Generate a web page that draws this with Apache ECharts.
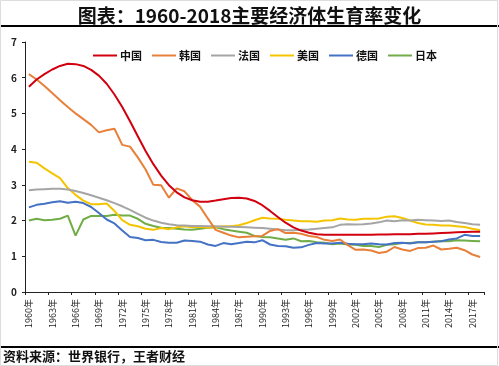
<!DOCTYPE html>
<html><head><meta charset="utf-8">
<script src="https://cdn.jsdelivr.net/npm/echarts@6/dist/echarts.min.js"></script>
<style>html,body{margin:0;padding:0;background:#fff}#c{width:499px;height:366px}</style>
</head><body><div id="c"></div>
<script>
const years = [];
for (let y = 1960; y <= 2018; y++) years.push(String(y));
const titleText = '图表：1960-2018主要经济体生育率变化';
const sourceText = '资料来源：世界银行，王者财经';
const yTicks = [0,1,2,3,4,5,6,7];
const china = [5.75,5.95,6.1,6.23,6.33,6.39,6.38,6.33,6.22,6.06,5.83,5.53,5.18,4.78,4.36,3.95,3.58,3.26,2.99,2.79,2.65,2.57,2.53,2.53,2.56,2.6,2.63,2.64,2.62,2.55,2.43,2.27,2.1,1.94,1.81,1.72,1.66,1.62,1.6,1.6,1.6,1.6,1.6,1.6,1.6,1.61,1.61,1.62,1.62,1.62,1.63,1.63,1.64,1.65,1.66,1.67,1.68,1.69,1.69];
const korea = [6.1,5.95,5.77,5.57,5.37,5.18,5.0,4.84,4.68,4.47,4.53,4.57,4.12,4.07,3.77,3.43,3.0,2.99,2.64,2.9,2.82,2.57,2.39,2.06,1.74,1.66,1.58,1.53,1.55,1.56,1.57,1.71,1.76,1.65,1.66,1.63,1.57,1.54,1.46,1.43,1.47,1.31,1.18,1.19,1.16,1.09,1.13,1.26,1.19,1.15,1.23,1.24,1.3,1.19,1.21,1.24,1.17,1.05,0.98];
const france = [2.85,2.87,2.88,2.89,2.89,2.87,2.83,2.77,2.71,2.64,2.57,2.49,2.4,2.3,2.19,2.08,2.0,1.94,1.9,1.87,1.86,1.85,1.85,1.84,1.84,1.83,1.83,1.82,1.81,1.8,1.79,1.77,1.75,1.73,1.73,1.74,1.75,1.77,1.79,1.81,1.88,1.9,1.89,1.9,1.92,1.95,2.0,1.98,2.01,2.0,2.02,2.01,2.0,1.99,2.0,1.96,1.93,1.9,1.88];
const usa = [3.65,3.62,3.46,3.32,3.19,2.91,2.72,2.56,2.46,2.46,2.48,2.27,2.01,1.88,1.84,1.77,1.74,1.79,1.76,1.81,1.84,1.81,1.83,1.8,1.81,1.84,1.84,1.87,1.93,2.01,2.08,2.06,2.05,2.02,2.0,1.98,1.98,1.97,2.0,2.01,2.06,2.03,2.02,2.05,2.05,2.06,2.11,2.12,2.07,2.0,1.93,1.89,1.88,1.86,1.86,1.84,1.82,1.77,1.73];
const germany = [2.37,2.44,2.47,2.51,2.54,2.5,2.53,2.49,2.38,2.21,2.03,1.92,1.72,1.54,1.51,1.45,1.46,1.4,1.38,1.38,1.44,1.43,1.41,1.33,1.29,1.37,1.34,1.37,1.41,1.39,1.45,1.33,1.29,1.28,1.24,1.25,1.32,1.37,1.36,1.36,1.38,1.35,1.34,1.34,1.36,1.34,1.33,1.37,1.38,1.36,1.39,1.39,1.41,1.42,1.47,1.5,1.6,1.57,1.57];
const japan = [2.0,2.05,2.01,2.02,2.05,2.14,1.58,2.03,2.13,2.13,2.13,2.16,2.14,2.14,2.05,1.91,1.85,1.8,1.79,1.77,1.75,1.74,1.77,1.8,1.81,1.76,1.72,1.69,1.66,1.57,1.54,1.53,1.5,1.46,1.5,1.42,1.43,1.39,1.38,1.34,1.36,1.33,1.32,1.29,1.29,1.26,1.32,1.34,1.37,1.37,1.39,1.39,1.41,1.43,1.42,1.45,1.44,1.43,1.42];
const seriesNames = ['中国','韩国','法国','美国','德国','日本'];
const seriesData = [china, korea, france, usa, germany, japan];
const colors = ['#D2000F','#E8803A','#A5A5A5','#F5C400','#4472C4','#70AD47'];

const chart = echarts.init(document.getElementById('c'), null, {renderer:'canvas'});
const font = '"Noto Sans CJK SC", "Noto Sans", sans-serif';
chart.setOption({
  animation: false,
  backgroundColor: '#fff',
  color: colors,
  title: {
    text: titleText, left: 'center', top: 1,
    textStyle: {fontFamily: font, fontSize: 19, fontWeight: 'bold', color: '#111'}
  },
  legend: {
    data: seriesNames, left: 88, top: 45, icon: 'rect', itemWidth: 24, itemHeight: 2, itemGap: 10,
    textStyle: {fontFamily: font, fontSize: 11, fontWeight: 'bold', color: '#111', padding: [0,0,0,-2]}
  },
  grid: {left: 25, right: 15, top: 42, bottom: 74, containLabel: false},
  xAxis: {
    type: 'category', data: years, boundaryGap: true,
    axisLine: {lineStyle: {color: '#222', width: 1}},
    axisTick: {show: true, interval: 2, length: 3, lineStyle: {color: '#222'}},
    axisLabel: {interval: 2, rotate: 90, fontFamily: font, fontSize: 9, color: '#222', margin: 7,
      formatter: v => v + '年'}
  },
  yAxis: {
    type: 'value', min: yTicks[0], max: yTicks[yTicks.length-1], interval: 1,
    splitLine: {show: false},
    axisLine: {show: true, lineStyle: {color: '#222', width: 1}},
    axisTick: {show: true, length: 3, lineStyle: {color: '#222'}},
    axisLabel: {fontFamily: font, fontSize: 10, fontWeight: 'bold', color: '#222', margin: 8}
  },
  series: seriesNames.map((n, i) => ({
    name: n, type: 'line', data: seriesData[i], symbol: 'none', showSymbol: false,
    lineStyle: {width: 2, color: colors[i]}, itemStyle: {color: colors[i]}, z: 10 - i
  })),
  graphic: [
    {type: 'line', shape: {x1: 0, y1: 26, x2: 499, y2: 26}, style: {stroke: '#000', lineWidth: 2}},
    {type: 'line', shape: {x1: 0, y1: 347, x2: 499, y2: 347}, style: {stroke: '#000', lineWidth: 2}},
    {type: 'rect', shape: {x: 0.5, y: 0.5, width: 497, height: 365}, style: {fill: 'none', stroke: '#ddd', lineWidth: 1}},
    {type: 'text', left: 3, top: 350, style: {text: sourceText, font: 'bold 13px ' + font, fill: '#111'}}
  ]
});
</script></body></html>
